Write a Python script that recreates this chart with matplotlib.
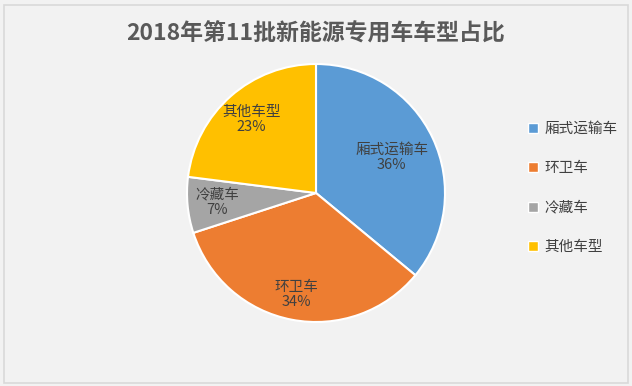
import numpy as np
import matplotlib
matplotlib.use("Agg")
import matplotlib.pyplot as plt
from matplotlib.lines import Line2D
from matplotlib.patches import Rectangle

plt.rcParams['font.family'] = ['Noto Sans CJK SC', 'DejaVu Sans']

# data
categories = ["厢式运输车", "环卫车", "冷藏车", "其他车型"]
shares = [36, 34, 7, 23]
colors = ['#5B9BD5', '#ED7D31', '#A5A5A5', '#FFC000']

# how far out each slice label sits (fraction of radius)
label_r = [0.65, 0.80, 0.77, 0.76]

fig = plt.figure(figsize=(6.32, 3.86), dpi=100)
fig.patch.set_facecolor('#F2F2F2')
# thin grey frame round the chart area
fig.patches.append(Rectangle((3.5 / 632, 3.5 / 386), 624 / 632, 378 / 386,
                             transform=fig.transFigure, fill=False,
                             edgecolor='#D9D9D9', linewidth=1.2))

ax = fig.add_axes([187 / 632, 64 / 386, 258 / 632, 258 / 386])
ax.set_facecolor('none')
wedges, _ = ax.pie(shares, colors=colors, startangle=90, counterclock=False,
                   radius=1, wedgeprops=dict(edgecolor='white', linewidth=1.5))
ax.set_xlim(-1, 1)
ax.set_ylim(-1, 1)
ax.set_aspect('equal')
ax.axis('off')

total = sum(shares)
for w, name, val, r in zip(wedges, categories, shares, label_r):
    mid = np.deg2rad((w.theta1 + w.theta2) / 2)
    ax.text(r * np.cos(mid), r * np.sin(mid),
            f"{name}\n{round(val / total * 100)}%",
            ha='center', va='center', fontsize=10.5, color='#404040',
            linespacing=1.1)

fig.text(0.5, 0.912, "2018年第11批新能源专用车车型占比", ha='center', va='center',
         fontsize=16.5, fontweight='bold', color='#595959')

handles = [Line2D([], [], marker='s', linestyle='', markersize=7,
                  markerfacecolor=c, markeredgecolor='white', markeredgewidth=1)
           for c in colors]
fig.legend(handles, categories, loc='center left',
           bbox_to_anchor=(527 / 632, 1 - 188 / 386), frameon=False,
           fontsize=10.5, labelcolor='#404040', labelspacing=1.75,
           handlelength=0.8, handletextpad=0.4, borderpad=0, borderaxespad=0)

fig.savefig("out.png", dpi=100, facecolor=fig.get_facecolor())
